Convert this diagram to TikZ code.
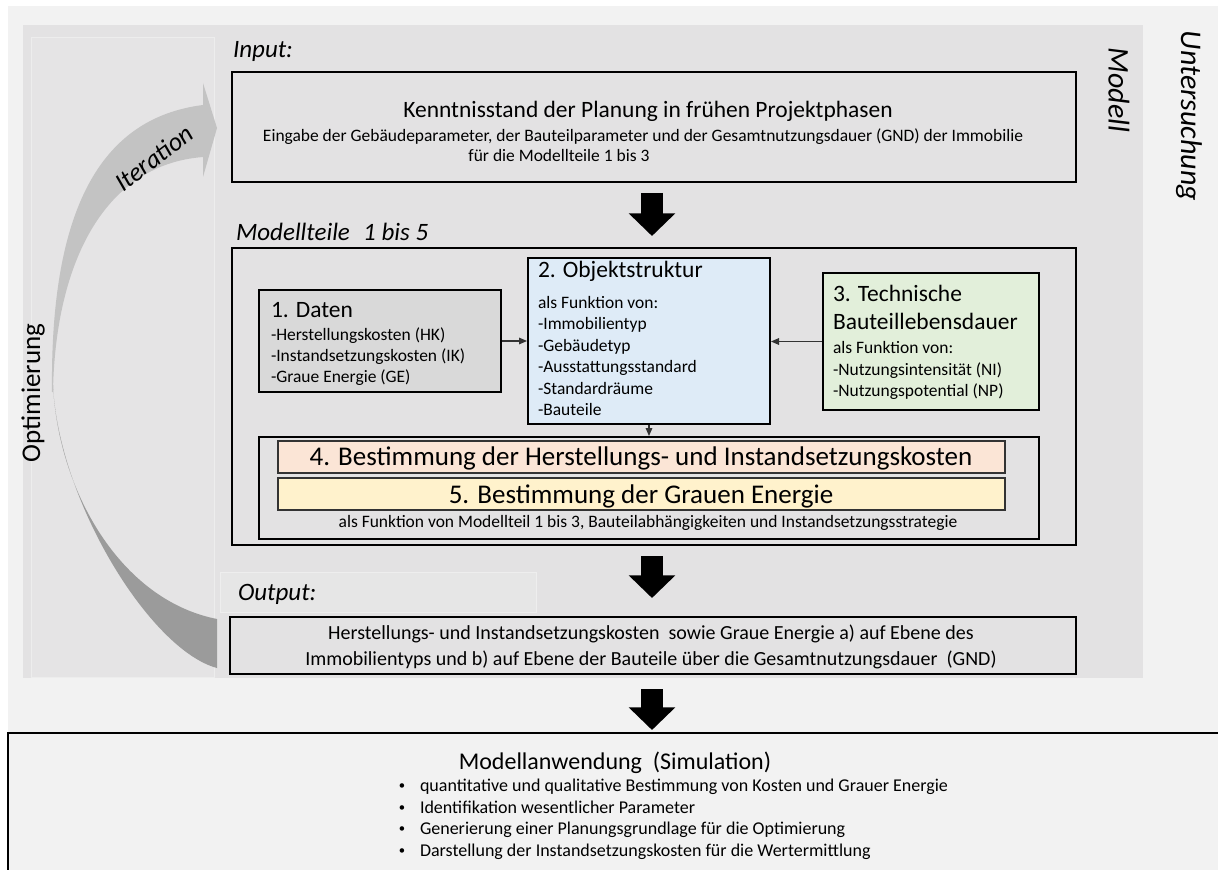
\documentclass[tikz,border=0pt]{standalone}
\usepackage{fontspec}
\setmainfont{Carlito}
\usetikzlibrary{arrows.meta,fit,calc}
\definecolor{outerbg}{HTML}{F2F2F2}
\definecolor{modellbg}{HTML}{E3E2E3}
\definecolor{panelbg}{HTML}{E5E4E5}
\definecolor{panelline}{HTML}{EDEDED}
\definecolor{daten}{HTML}{D9D9D9}
\definecolor{objekt}{HTML}{DEEBF7}
\definecolor{technik}{HTML}{E2EFDA}
\definecolor{bestA}{HTML}{FBE5D6}
\definecolor{bestB}{HTML}{FFF2CC}
\definecolor{arrlight}{HTML}{C3C3C3}
\definecolor{arrdark}{HTML}{9B9B9B}
\definecolor{lblbg}{HTML}{E6E6E6}
\definecolor{lblline}{HTML}{EEEEEE}
\begin{document}
\begin{tikzpicture}[x=0.75pt,y=-0.75pt,
  boxA/.style={rectangle,draw=black,line width=1.9pt,inner sep=0pt,fill=modellbg},
  boxB/.style={rectangle,draw=black,line width=1.5pt,inner sep=0pt},
  boxC/.style={rectangle,draw=black!80,line width=1pt,inner sep=0pt},
  txt/.style={inner sep=0pt,outer sep=0pt,text=black},
  lbl/.style={txt,font=\fontsize{18.75}{22}\selectfont\itshape},
  ttl/.style={txt,font=\fontsize{17.6}{21}\selectfont},
  sml/.style={txt,font=\fontsize{13.1}{16}\selectfont},
  big/.style={txt,font=\fontsize{20.25}{24}\selectfont},
  outtxt/.style={txt,font=\fontsize{15}{18}\selectfont},
  bul/.style={txt,font=\fontsize{13.5}{16}\selectfont},
  dot/.style={txt,font=\fontsize{9.5}{12}\selectfont},
  side/.style={txt,font=\fontsize{22.5}{26}\selectfont\itshape},
  thinarrow/.style={draw=black!80,line width=0.8pt,-{Triangle[length=6pt,width=5pt]}},
  bigarrow/.style={draw=black,line width=16.5pt,-{Triangle[length=17pt,width=34pt]}},
]
\useasboundingbox (0,0) rectangle (1218,870);
\clip (0,0) rectangle (1218,870);
% backgrounds
\fill[white] (0,0) rectangle (1218,870);
\fill[outerbg] (8,6) rectangle (1218,870);
\fill[modellbg] (23,25) rectangle (1143,678);
\filldraw[fill=panelbg,draw=panelline,line width=0.6pt] (31,37) rectangle (214,677);

% curved iteration arrow
\fill[arrlight] (52,392) .. controls (50,210) and (100,118) .. (203,105)
  -- (203,83) -- (217,128) -- (203,177) -- (203,157)
  .. controls (100,165) and (55,270) .. (53,392) -- cycle;
\fill[arrdark] (53,385) .. controls (58,500) and (150,650) .. (217,668)
  -- (217,619) .. controls (120,600) and (58,490) .. (53,385) -- cycle;
\node[txt,font=\fontsize{19.5}{23}\selectfont\itshape,rotate=37] (iter) at (154,158) {Iteration};
\node[txt,font=\fontsize{20.25}{24}\selectfont,rotate=90] (opt) at (33,393) {Optimierung};

% side labels
\node[side,rotate=-90] (modell) at (1119,90) {Modell};
\node[side,rotate=-90] (unters) at (1189,116) {Untersuchung};

% input
\node[lbl,anchor=base west] (inlbl) at (233,58) {Input:};
\node[boxA,fit={(232,72)(1076,182)}] (input) {};
\node[ttl,anchor=base] (inT) at (648,118) {Kenntnisstand der Planung in frühen Projektphasen};
\node[sml,anchor=base] (inS1) at (643,142) {Eingabe der Gebäudeparameter, der Bauteilparameter und der Gesamtnutzungsdauer (GND) der Immobilie};
\node[sml,anchor=base] (inS2) at (559,162) {für die Modellteile 1 bis 3};

\coordinate (a1s) at (652,193);
\coordinate (a1e) at (652,236);
\draw[bigarrow] (a1s) -- (a1e);

% model parts
\node[lbl,anchor=base west] (mtlbl) at (236,241) {Modellteile\hspace{10pt}1 bis 5};
\node[boxA,fit={(232,248)(1076,545)}] (mt) {};

\node[boxB,fill=daten,fit={(259,290)(501,392)}] (daten) {};
\node[boxB,fill=objekt,fit={(528,258)(770,424)}] (objekt) {};
\node[boxB,fill=technik,fit={(823,273)(1039,410)}] (technik) {};
\node[boxB,fit={(259,437)(1039,539)}] (grp) {};
\node[boxC,fill=bestA,fit={(278,441)(1005,473)}] (bA) {};
\node[boxC,fill=bestB,fit={(278,478)(1005,510)}] (bB) {};

\node[ttl,anchor=base west] (d0) at (271,317) {1. Daten};
\node[sml,anchor=base west] (d1) at (271,340) {-Herstellungskosten (HK)};
\node[sml,anchor=base west] (d2) at (271,361) {-Instandsetzungskosten (IK)};
\node[sml,anchor=base west] (d3) at (271,382) {-Graue Energie (GE)};

\node[ttl,anchor=base west] (o0) at (538,277) {2. Objektstruktur};
\node[sml,anchor=base west] (o1) at (538,308) {als Funktion von:};
\node[sml,anchor=base west] (o2) at (538,329.5) {-Immobilientyp};
\node[sml,anchor=base west] (o3) at (538,351) {-Gebäudetyp};
\node[sml,anchor=base west] (o4) at (538,372) {-Ausstattungsstandard};
\node[sml,anchor=base west] (o5) at (538,394) {-Standardräume};
\node[sml,anchor=base west] (o6) at (538,415) {-Bauteile};

\node[ttl,anchor=base west] (t0) at (833,301) {3. Technische};
\node[ttl,anchor=base west] (t1) at (833,329) {Bauteillebensdauer};
\node[sml,anchor=base west] (t2) at (833,353) {als Funktion von:};
\node[sml,anchor=base west] (t3) at (833,375) {-Nutzungsintensität (NI)};
\node[sml,anchor=base west] (t4) at (833,396) {-Nutzungspotential (NP)};

\draw[thinarrow] (daten.east) -- (objekt.west);
\draw[thinarrow] (technik.west) -- (technik.west -| objekt.east);
\draw[thinarrow] (objekt.south) -- (objekt.south |- grp.north);

\node[big,anchor=base] (bAt) at (641,465) {4. Bestimmung der Herstellungs- und Instandsetzungskosten};
\node[big,anchor=base] (bBt) at (641,503) {5. Bestimmung der Grauen Energie};
\node[sml,anchor=base] (cap) at (648,527) {als Funktion von Modellteil 1 bis 3, Bauteilabhängigkeiten und Instandsetzungsstrategie};

\coordinate (a2s) at (652,556);
\coordinate (a2e) at (652,598);
\draw[bigarrow] (a2s) -- (a2e);

% output
\filldraw[fill=lblbg,draw=lblline,line width=0.6pt] (220,572) rectangle (536,612);
\node[lbl,anchor=base west] (outlbl) at (238,600) {Output:};
\node[boxA,fit={(230,617)(1076,674)}] (out) {};
\node[outtxt,anchor=base] (out1) at (651,639) {Herstellungs- und Instandsetzungskosten\ \ sowie Graue Energie a) auf Ebene des};
\node[outtxt,anchor=base] (out2) at (651,665) {Immobilientyps und b) auf Ebene der Bauteile über die Gesamtnutzungsdauer\ \ (GND)};

\coordinate (a3s) at (652,689);
\coordinate (a3e) at (652,730);
\draw[bigarrow] (a3s) -- (a3e);

% application
\node[rectangle,draw=black,line width=2.2pt,fill=outerbg,inner sep=0pt,fit={(8,733)(1260,900)}] (app) {};
\node[txt,font=\fontsize{18}{22}\selectfont,anchor=base] (appT) at (615,769) {Modellanwendung\ \ (Simulation)};
\node[dot] (k1) at (402,787) {\textbullet};
\node[bul,anchor=base west] (l1) at (420,791) {quantitative und qualitative Bestimmung von Kosten und Grauer Energie};
\node[dot] (k2) at (402,809) {\textbullet};
\node[bul,anchor=base west] (l2) at (420,813) {Identifikation wesentlicher Parameter};
\node[dot] (k3) at (402,830) {\textbullet};
\node[bul,anchor=base west] (l3) at (420,834) {Generierung einer Planungsgrundlage für die Optimierung};
\node[dot] (k4) at (402,852) {\textbullet};
\node[bul,anchor=base west] (l4) at (420,856) {Darstellung der Instandsetzungskosten für die Wertermittlung};
\end{tikzpicture}
\end{document}
